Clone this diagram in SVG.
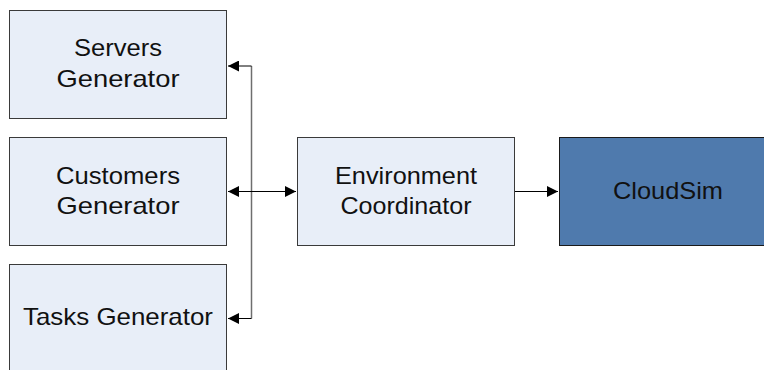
<svg xmlns="http://www.w3.org/2000/svg" width="764" height="370" viewBox="0 0 764 370">
<style>
.box{fill:#e8eef8;stroke:#3a3a3a;stroke-width:1}
.dark{fill:#4f7aad;stroke:#1a1a1a;stroke-width:1}
.t{font-family:"Liberation Sans",Arial,sans-serif;font-size:24px;fill:#111;text-anchor:middle}
.c{fill:none;stroke:#000;stroke-width:1}
.v{fill:none;stroke:#6e6e6e;stroke-width:1.5}
</style>
<defs>
<marker id="ah" viewBox="0 0 10 10" refX="10" refY="5" markerWidth="13" markerHeight="11" markerUnits="userSpaceOnUse" orient="auto-start-reverse">
<path d="M0,0 L10,5 L0,10 z" fill="#000"/>
</marker>
</defs>
<rect width="764" height="370" fill="#fff"/>
<g id="connectors">
<path class="v" d="M251.5,66 V318.5"/>
<path class="c" d="M251.5,66 H228" marker-end="url(#ah)"/>
<path class="c" d="M251.5,318.5 H228" marker-end="url(#ah)"/>
<path class="c" d="M228,191.5 H296" marker-start="url(#ah)" marker-end="url(#ah)"/>
<path class="c" d="M515,191.5 H558" marker-end="url(#ah)"/>
</g>
<g id="servers">
<rect class="box" x="9.5" y="10.5" width="217" height="108"/>
<text class="t" x="118" y="56" textLength="88" lengthAdjust="spacingAndGlyphs">Servers</text>
<text class="t" x="118" y="87" textLength="123" lengthAdjust="spacingAndGlyphs">Generator</text>
</g>
<g id="customers">
<rect class="box" x="9.5" y="137.5" width="217" height="108"/>
<text class="t" x="118" y="184" textLength="124" lengthAdjust="spacingAndGlyphs">Customers</text>
<text class="t" x="118" y="214" textLength="123" lengthAdjust="spacingAndGlyphs">Generator</text>
</g>
<g id="tasks">
<rect class="box" x="9.5" y="264.5" width="217" height="108"/>
<text class="t" x="118" y="325" textLength="190" lengthAdjust="spacingAndGlyphs">Tasks Generator</text>
</g>
<g id="environment">
<rect class="box" x="297.5" y="137.5" width="217" height="108"/>
<text class="t" x="406" y="184" textLength="142" lengthAdjust="spacingAndGlyphs">Environment</text>
<text class="t" x="406" y="214" textLength="131" lengthAdjust="spacingAndGlyphs">Coordinator</text>
</g>
<g id="cloudsim">
<rect class="dark" x="559.5" y="137.5" width="217" height="108"/>
<text class="t" x="668" y="199" textLength="110" lengthAdjust="spacingAndGlyphs">CloudSim</text>
</g>
</svg>
